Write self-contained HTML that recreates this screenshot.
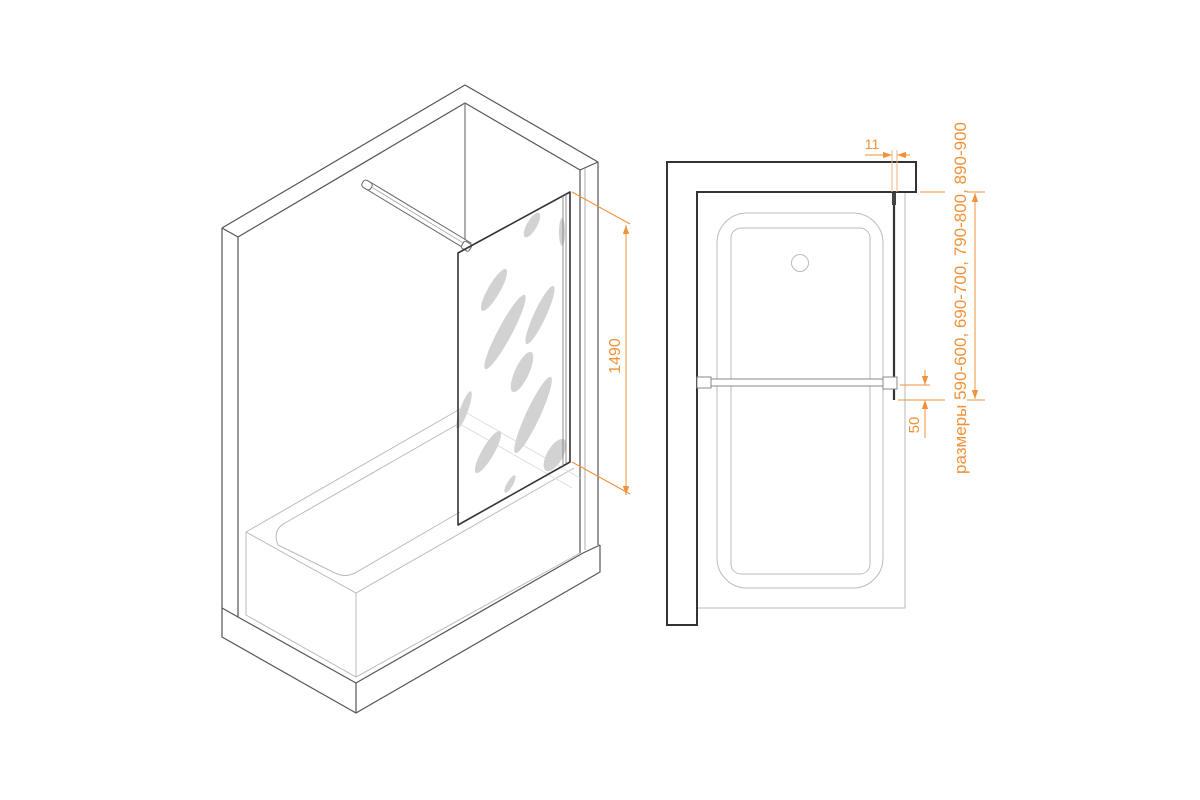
<!DOCTYPE html>
<html><head><meta charset="utf-8"><style>
html,body{margin:0;padding:0;background:#fff;width:1200px;height:800px;overflow:hidden}
svg{display:block}
text{font-family:"Liberation Sans","Noto Sans CJK SC",sans-serif}
</style></head><body>
<svg width="1200" height="800" viewBox="0 0 1200 800" xmlns="http://www.w3.org/2000/svg">
<defs>
<marker id="ar" viewBox="0 0 10 10" refX="10" refY="5" markerWidth="9" markerHeight="9" orient="auto-start-reverse"><path d="M0,1.5 L10,5 L0,8.5 z" fill="#f0923a"/></marker>
</defs>
<!-- LEFT ISO VIEW -->
<g fill="none" stroke="#555" stroke-width="1.2" stroke-linejoin="round">
  <path d="M222,228 L465,85 L598,162 L598,545"/>
  <path d="M222,228 L222,637 L356,713 L600,572 L600,545"/>
  <path d="M222,228 L238,237 L465,103 L580,170 L598,162"/>
  <path d="M238,237 L238,617"/>
  <path d="M580,170 L580,553"/>
  <path d="M585,168 L585,550" stroke="#999" stroke-width="0.8"/>
  <path d="M222,608 L238,617 L356,683 L583,553 L600,545"/>
  <path d="M356,683 L356,713"/>
  <path d="M465,103 L465,247" stroke="#777"/>
</g>
<!-- tub -->
<g fill="none" stroke="#bbb" stroke-width="1">
  <path d="M246,532 L460,409"/>
  <path d="M246,532 L356,593 L574,468"/>
  <path d="M246,532 L246,615 L356,677 L580,553"/>
  <path d="M356,593 L356,677"/>
  <path d="M285,523 L458,424"/>
  <path d="M285,523 Q272,530 278,545 L335,573 Q345,578 355,573 L460,512"/>
  <path d="M460,409 L580,478" stroke="#ddd"/>
  <path d="M460,424 L572,488" stroke="#ddd"/>
</g>
<!-- rod -->
<g stroke="#666" fill="#fff" stroke-width="1">
  <path d="M370,182 L471,243 L467,250 L366,189 z"/>
  <path d="M369,185.5 L469,246.5" stroke="#999" stroke-width="0.7"/>
  <rect x="362" y="181" width="10" height="8" rx="3" transform="rotate(31 367 185)"/>
  <rect x="462" y="242" width="9" height="8" rx="2" transform="rotate(31 466 246)"/>
</g>
<!-- glass streaks -->
<g fill="#d2d2d2">
  <ellipse cx="494" cy="290" rx="6" ry="24" transform="rotate(30 494 290)"/>
  <ellipse cx="505" cy="332" rx="7" ry="42" transform="rotate(28 505 332)"/>
  <ellipse cx="540" cy="315" rx="6" ry="32" transform="rotate(25 540 315)"/>
  <ellipse cx="522" cy="372" rx="7" ry="22" transform="rotate(25 522 372)"/>
  <ellipse cx="533" cy="415" rx="7" ry="42" transform="rotate(25 533 415)"/>
  <ellipse cx="488" cy="452" rx="6" ry="24" transform="rotate(30 488 452)"/>
  <ellipse cx="555" cy="455" rx="8" ry="18" transform="rotate(30 555 455)"/>
  <ellipse cx="464" cy="410" rx="4" ry="20" transform="rotate(20 464 410)"/>
  <ellipse cx="510" cy="484" rx="3" ry="10" transform="rotate(30 510 484)"/>
  <ellipse cx="562" cy="232" rx="3" ry="14"/>
  <ellipse cx="532" cy="225" rx="5" ry="14" transform="rotate(30 532 225)"/>
</g>
<g fill="none" stroke="#333" stroke-width="1.6" stroke-linejoin="round">
  <path d="M458,253 L570,192 L570,462 L458,525 z"/>
</g>
<path d="M563,196 L563,466 M566,194 L566,464" stroke="#777" stroke-width="0.8"/>
<!-- dimension 1490 -->
<g stroke="#f0923a" stroke-width="1" fill="none">
  <path d="M572,192 L630,224"/>
  <path d="M572,462 L630,494"/>
  <path d="M626,225 L626,495" marker-start="url(#ar)" marker-end="url(#ar)"/>
</g>
<text x="0" y="0" transform="translate(620,356) rotate(-90)" text-anchor="middle" font-size="16" fill="#f0923a">1490</text>

<!-- RIGHT PLAN VIEW -->
<g fill="none" stroke="#bbb" stroke-width="1">
  <rect x="697" y="192" width="208" height="416"/>
  <rect x="717" y="213" width="166" height="375" rx="30"/>
  <rect x="731" y="228" width="139" height="346" rx="10"/>
  <circle cx="800" cy="263" r="8.5"/>
</g>
<path d="M667,162 L916,162 L916,192 L697,192 L697,625 L667,625 z" fill="none" stroke="#333" stroke-width="2"/>
<path d="M894,193 L894,400" stroke="#333" stroke-width="2.2"/>
<rect x="892" y="193" width="4" height="12" fill="#444"/>
<g stroke="#888" fill="#fff" stroke-width="1">
  <path d="M708,379 L886,379 L886,386 L708,386 z"/>
  <rect x="697" y="377" width="14" height="11"/>
  <rect x="883" y="377" width="14" height="12"/>
</g>
<!-- dims right -->
<g stroke="#f0923a" stroke-width="1" fill="none">
  <path d="M892,150 L892,192 M897,150 L897,192" stroke="#f5b27a"/>
  <path d="M865,155 L892,155" marker-end="url(#ar)"/>
  <path d="M910,155 L897,155" marker-end="url(#ar)"/>
  <path d="M920,192 L945,192"/>
  <path d="M898,400 L945,400"/>
  <path d="M900,385 L930,385"/>
  <path d="M925,370 L925,385" marker-end="url(#ar)"/>
  <path d="M925,415 L925,400" marker-end="url(#ar)"/>
  <path d="M925,415 L925,438"/>
  <path d="M975,193 L975,399" marker-start="url(#ar)" marker-end="url(#ar)"/>
  <path d="M967,192 L985,192 M967,400 L985,400"/>
</g>
<text x="872" y="149" text-anchor="middle" font-size="14" fill="#f0923a">11</text>
<text transform="translate(919,425) rotate(-90)" text-anchor="middle" font-size="15" fill="#f0923a">50</text>
<text transform="translate(966,298) rotate(-90)" text-anchor="middle" font-size="17" fill="#f0923a">размеры 590-600, 690-700, 790-800, 890-900</text>
</svg>
</body></html>
